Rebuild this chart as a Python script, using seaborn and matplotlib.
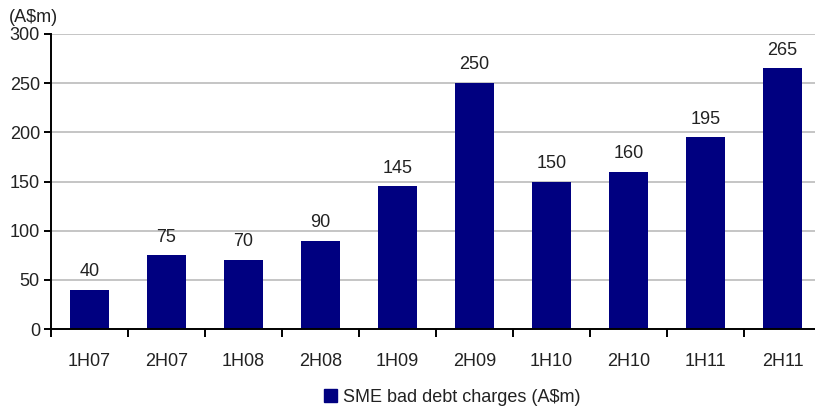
import matplotlib
matplotlib.use("Agg")
import matplotlib.pyplot as plt
import matplotlib.patches as mpatches
import seaborn as sns
import pandas as pd
import numpy as np

categories = ["1H07", "2H07", "1H08", "2H08", "1H09", "2H09", "1H10", "2H10", "1H11", "2H11"]
values = [40, 75, 70, 90, 145, 250, 150, 160, 195, 265]
series_name = "SME bad debt charges (A$m)"
y_ticks = [0, 50, 100, 150, 200, 250, 300]

sns.set_theme(style="white")
plt.rcParams['font.family'] = ['Liberation Sans Narrow', 'Liberation Sans', 'DejaVu Sans']

df = pd.DataFrame({"period": categories, "value": values})
BAR = "#000080"
TXT = "#222222"

fig = plt.figure(figsize=(8.15, 4.12), dpi=100)
ax = fig.add_axes([51/815, 83/412, 770/815, 295/412])

sns.barplot(data=df, x="period", y="value", color=BAR, width=0.5, ax=ax,
            saturation=1, edgecolor="none")

ax.set_xlim(-0.5, len(categories) - 0.5)
ax.set_ylim(0, 300)
ax.set_yticks(y_ticks)
ax.yaxis.grid(True, color="#c0c0c0", linewidth=1.3)
ax.set_axisbelow(True)
ax.set_xlabel("")
ax.set_ylabel("")

for s in ["top", "right"]:
    ax.spines[s].set_visible(False)
for s in ["left", "bottom"]:
    ax.spines[s].set_color("black")
    ax.spines[s].set_linewidth(1.4)

ax.tick_params(axis="y", which="major", length=5, width=1.4, color="black",
               labelsize=13, labelcolor=TXT, pad=3, left=True)
ax.tick_params(axis="x", which="major", length=0, labelsize=13, labelcolor=TXT, pad=17)
ax.set_xticks(np.arange(len(categories)) - 0.5, minor=True)
ax.tick_params(axis="x", which="minor", length=6, width=1.4, color="black", bottom=True)

for i, v in enumerate(values):
    ax.annotate(str(v), (i, v), xytext=(0, 7), textcoords="offset points",
                ha="center", va="bottom", fontsize=13, color=TXT)

fig.text(9/815, 1 - 17/412, "(A$m)", fontsize=13, color=TXT, ha="left", va="center")

handle = mpatches.Patch(color=BAR, label=series_name)
fig.legend(handles=[handle], loc="center", bbox_to_anchor=(452/815, 1 - 397/412),
           frameon=False, fontsize=13, handlelength=0.75, handleheight=0.75,
           handletextpad=0.3, labelcolor=TXT)

fig.savefig("out.png", dpi=100)
